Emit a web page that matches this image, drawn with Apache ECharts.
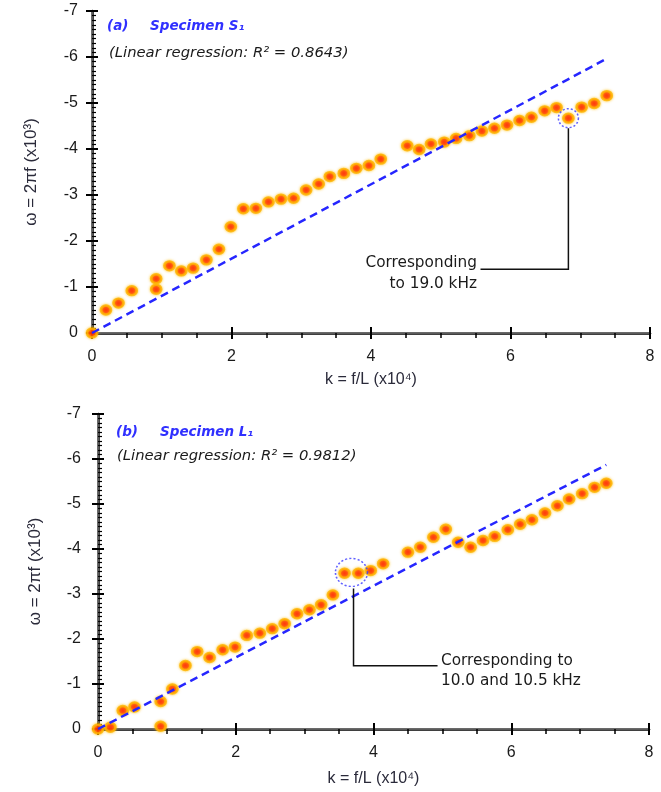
<!DOCTYPE html>
<html><head><meta charset="utf-8">
<script src="https://cdn.jsdelivr.net/npm/echarts@6/dist/echarts.min.js"></script>
<style>html,body{margin:0;padding:0;background:#fff}#c{width:661px;height:792px}</style>
</head><body><div id="c"></div>
<script>
// ---- data ----
const topK = [0, 0.20, 0.38, 0.57, 0.92, 0.92, 1.11, 1.28, 1.45, 1.64, 1.82, 1.99, 2.17, 2.35, 2.53, 2.71, 2.89, 3.07, 3.25, 3.41, 3.61, 3.79, 3.97, 4.14, 4.52, 4.69, 4.86, 5.05, 5.22, 5.41, 5.59, 5.77, 5.95, 6.13, 6.30, 6.49, 6.66, 6.83, 7.02, 7.20, 7.38];
const topW = [0, -0.50, -0.65, -0.92, -1.18, -0.95, -1.46, -1.35, -1.41, -1.59, -1.82, -2.31, -2.70, -2.71, -2.85, -2.91, -2.93, -3.11, -3.24, -3.40, -3.47, -3.58, -3.64, -3.78, -4.07, -3.99, -4.11, -4.15, -4.23, -4.29, -4.39, -4.45, -4.52, -4.62, -4.69, -4.83, -4.90, -4.67, -4.91, -4.99, -5.16];
const botK = [0, 0.18, 0.36, 0.53, 0.91, 0.91, 1.08, 1.27, 1.44, 1.62, 1.81, 1.99, 2.16, 2.35, 2.53, 2.71, 2.89, 3.07, 3.24, 3.41, 3.58, 3.78, 3.96, 4.14, 4.50, 4.68, 4.87, 5.05, 5.23, 5.41, 5.59, 5.76, 5.95, 6.13, 6.30, 6.49, 6.67, 6.84, 7.03, 7.21, 7.38];
const botW = [0, -0.04, -0.41, -0.49, -0.61, -0.06, -0.89, -1.41, -1.72, -1.59, -1.76, -1.82, -2.08, -2.13, -2.23, -2.34, -2.56, -2.65, -2.76, -2.98, -3.46, -3.46, -3.52, -3.67, -3.93, -4.04, -4.26, -4.44, -4.15, -4.04, -4.19, -4.28, -4.43, -4.55, -4.65, -4.80, -4.96, -5.11, -5.23, -5.37, -5.46];
// linear regression lines (start, end)
const topFitK = [0, 7.35];
const topFitW = [0, -5.94];
const botFitK = [0, 7.38];
const botFitW = [0, -5.87];
// annotations
const topCircle = [6.83, -4.67];
const topArrowK = [5.57, 6.83, 6.83];
const topArrowW = [-1.385, -1.385, -4.45];
const botCircle = [3.68, -3.48];
const botArrowK = [4.93, 3.71, 3.71];
const botArrowW = [-1.405, -1.405, -3.12];
const xTicks = [0, 2, 4, 6, 8];
const yTicks = [-7, -6, -5, -4, -3, -2, -1, 0];

const zip = (a, b) => a.map((v, i) => [v, b[i]]);
const chart = echarts.init(document.getElementById('c'));

const grids = [
  {left: 92, top: 11, right: 11, height: 322},
  {left: 98, top: 414, right: 12, height: 315}
];

const xAxes = [], yAxes = [];
const labelFont = {fontFamily: 'Liberation Sans', fontSize: 16, color: '#1a1a1a'};
grids.forEach((g, gi) => {
  xAxes.push({
    gridIndex: gi, type: 'value', min: xTicks[0], max: xTicks[xTicks.length - 1], interval: 2,
    position: 'bottom',
    axisLine: {lineStyle: {color: '#000', width: 2.5}},
    axisTick: {show: true, length: 6, lineStyle: {color: '#000', width: 2}},
    minorTick: {show: true, splitNumber: 4, length: 5, lineStyle: {color: '#000', width: 1.5}},
    splitLine: {show: false},
    axisLabel: Object.assign({margin: 16}, labelFont),
    name: 'k = f/L (x10⁴)', nameLocation: 'middle', nameGap: gi === 0 ? 39 : 42,
    nameTextStyle: {fontFamily: 'Liberation Sans', fontSize: 16, color: '#2a2a3a'}
  });
  xAxes.push({
    gridIndex: gi, type: 'value', min: 0, max: 8, interval: 2, position: 'bottom',
    axisLine: {show: false}, axisLabel: {show: false}, splitLine: {show: false},
    axisTick: {show: true, inside: true, length: 6, lineStyle: {color: '#000', width: 2}}
  });
  xAxes.push({
    gridIndex: gi, type: 'value', min: 0, max: 8, position: 'top',
    axisLine: {lineStyle: {color: '#7a7a7a', width: 1.5}}, axisLabel: {show: false},
    axisTick: {show: false}, splitLine: {show: false}
  });
  yAxes.push({
    gridIndex: gi, type: 'value', min: yTicks[0], max: yTicks[yTicks.length - 1], interval: 1, inverse: true,
    position: 'left',
    axisLine: {lineStyle: {color: '#000', width: 2.5}},
    axisTick: {show: true, length: 6, lineStyle: {color: '#000', width: 2}},
    splitLine: {show: false},
    axisLabel: Object.assign({margin: gi === 0 ? 14 : 17}, labelFont),
    name: 'ω = 2πf (x10³)', nameLocation: 'middle', nameRotate: 90, nameGap: gi === 0 ? 52 : 54,
    nameTextStyle: {fontFamily: 'Liberation Sans', fontSize: 17, color: '#2a2a3a'}
  });
  yAxes.push({
    gridIndex: gi, type: 'value', min: -7, max: 0, interval: 1, inverse: true, position: 'left',
    axisLine: {show: false}, axisLabel: {show: false}, splitLine: {show: false},
    axisTick: {show: true, inside: true, length: 6, lineStyle: {color: '#000', width: 2}},
    minorTick: {show: true, splitNumber: 10, length: 4, lineStyle: {color: '#000', width: 1.2}}
  });
  yAxes.push({
    gridIndex: gi, type: 'value', min: -7, max: 0, inverse: true, position: 'right',
    axisLine: {lineStyle: {color: '#7a7a7a', width: 1.5}}, axisLabel: {show: false},
    axisTick: {show: false}, splitLine: {show: false}
  });
});

const markerStyle = {
  color: '#ff1500', borderColor: '#ffb300', borderWidth: 2.5,
  shadowBlur: 3, shadowColor: 'rgba(255,190,0,0.9)'
};
const scat = (k, w, gi) => ({
  type: 'scatter', xAxisIndex: gi * 3, yAxisIndex: gi * 3, data: zip(k, w),
  symbol: 'circle', symbolSize: [10, 9], itemStyle: markerStyle, z: 3
});
const fit = (k, w, gi) => ({
  type: 'line', xAxisIndex: gi * 3, yAxisIndex: gi * 3, data: zip(k, w), symbol: 'none',
  lineStyle: {color: '#2626ff', width: 2.5, type: [8, 5]}, z: 4
});
const circ = (c, size, gi) => ({
  type: 'scatter', xAxisIndex: gi * 3, yAxisIndex: gi * 3, data: [c], symbol: 'circle', symbolSize: size,
  itemStyle: {color: 'rgba(0,0,0,0)', borderColor: '#3a3aff', borderWidth: 1.5, borderType: [2, 2]}, z: 5
});
const arrow = (k, w, gi) => ({
  type: 'lines', coordinateSystem: 'cartesian2d', xAxisIndex: gi * 3, yAxisIndex: gi * 3, polyline: true,
  data: [{coords: zip(k, w)}], symbol: ['none', 'arrow'], symbolSize: 9,
  lineStyle: {color: '#111', width: 1.5, opacity: 1}, z: 6
});

const italic = {fontFamily: 'DejaVu Sans', fontStyle: 'italic', fontSize: 14.8, fill: '#1a1a1a'};
const blue = {fontFamily: 'DejaVu Sans', fontStyle: 'italic', fontWeight: 'bold', fontSize: 13.5, fill: '#3030ff'};
const plain = {fontFamily: 'DejaVu Sans', fontSize: 15.3, fill: '#1a1a1a'};

chart.setOption({
  animation: false,
  grid: grids,
  xAxis: xAxes,
  yAxis: yAxes,
  series: [
    scat(topK, topW, 0), fit(topFitK, topFitW, 0), circ(topCircle, [20, 19], 0), arrow(topArrowK, topArrowW, 0),
    scat(botK, botW, 1), fit(botFitK, botFitW, 1), circ(botCircle, [32, 28], 1), arrow(botArrowK, botArrowW, 1)
  ],
  graphic: [
    {type: 'text', left: 107, top: 19, style: Object.assign({text: '(a)'}, blue)},
    {type: 'text', left: 150, top: 19, style: Object.assign({text: 'Specimen S₁'}, blue)},
    {type: 'text', left: 109, top: 46, style: Object.assign({text: '(Linear regression: R² = 0.8643)'}, italic)},
    {type: 'text', right: 661 - 477, top: 256, style: Object.assign({text: 'Corresponding', align: 'right'}, plain)},
    {type: 'text', right: 661 - 477, top: 277, style: Object.assign({text: 'to 19.0 kHz', align: 'right'}, plain)},
    {type: 'text', left: 116, top: 425, style: Object.assign({text: '(b)'}, blue)},
    {type: 'text', left: 160, top: 425, style: Object.assign({text: 'Specimen L₁'}, blue)},
    {type: 'text', left: 117, top: 449, style: Object.assign({text: '(Linear regression: R² = 0.9812)'}, italic)},
    {type: 'text', left: 441, top: 654, style: Object.assign({text: 'Corresponding to'}, plain)},
    {type: 'text', left: 441, top: 674, style: Object.assign({text: '10.0 and 10.5 kHz'}, plain)}
  ]
});
</script>
</body></html>
